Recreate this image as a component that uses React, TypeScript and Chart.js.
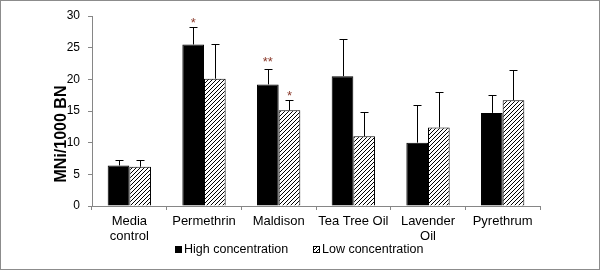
import React, { useEffect, useRef } from "react";
import { Chart, registerables } from "chart.js";

Chart.register(...registerables);

const categories: (string | string[])[] = [
  ["Media", "control"],
  "Permethrin",
  "Maldison",
  "Tea Tree Oil",
  ["Lavender", "Oil"],
  "Pyrethrum",
];
const seriesNames = ["High concentration", "Low concentration"];
const highValues = [6.4, 25.5, 19.2, 20.5, 10.0, 14.7];
const highErrors = [0.8, 2.8, 2.5, 5.8, 6.0, 2.8];
const lowValues = [6.2, 20.1, 15.1, 11.0, 12.4, 16.7];
const lowErrors = [1.0, 5.5, 1.7, 3.8, 5.6, 4.8];
const highMarks = ["", "*", "**", "", "", ""];
const lowMarks = ["", "", "*", "", "", ""];
const yTicks = [0, 5, 10, 15, 20, 25, 30];
const yTitle = "MNi/1000 BN";

function makeHatch(ctx: CanvasRenderingContext2D): CanvasPattern | string {
  const c = document.createElement("canvas");
  c.width = 4;
  c.height = 4;
  const g = c.getContext("2d");
  if (!g) return "#ccc";
  g.fillStyle = "#ffffff";
  g.fillRect(0, 0, 4, 4);
  g.fillStyle = "#000000";
  for (let i = 0; i < 4; i++) {
    g.fillRect(i, 3 - i, 1, 1);
  }
  return ctx.createPattern(c, "repeat") || "#ccc";
}

export default function App() {
  const ref = useRef<HTMLCanvasElement | null>(null);

  useEffect(() => {
    document.body.style.margin = "0";
    const canvas = ref.current;
    if (!canvas) return;
    const ctx = canvas.getContext("2d");
    if (!ctx) return;
    const hatch = makeHatch(ctx);
    const errors = [highErrors, lowErrors];
    const marks = [highMarks, lowMarks];

    const extras = {
      id: "extras",
      afterDatasetsDraw(chart: any) {
        const c = chart.ctx;
        const ys = chart.scales.y;
        c.save();
        chart.data.datasets.forEach((ds: any, di: number) => {
          const meta = chart.getDatasetMeta(di);
          meta.data.forEach((el: any, i: number) => {
            const v = ds.data[i] + errors[di][i];
            const yTop = Math.round(ys.getPixelForValue(v)) + 0.5;
            const x = Math.round(el.x) + 0.5;
            c.strokeStyle = "#000";
            c.lineWidth = 1;
            c.beginPath();
            c.moveTo(x, el.y);
            c.lineTo(x, yTop);
            c.moveTo(x - 4, yTop);
            c.lineTo(x + 4, yTop);
            c.stroke();
            const m = marks[di][i];
            if (m) {
              c.fillStyle = "#8B3A2B";
              c.font = "13px 'Liberation Sans', Arial, sans-serif";
              c.textAlign = "center";
              c.textBaseline = "middle";
              c.fillText(m, el.x, yTop - (m.length > 1 ? 7 : 4));
            }
          });
        });
        c.restore();
      },
      afterDraw(chart: any) {
        const c = chart.ctx;
        c.save();
        // y title
        c.fillStyle = "#000";
        c.font = "bold 16px 'Liberation Sans', Arial, sans-serif";
        c.textAlign = "center";
        c.textBaseline = "middle";
        c.translate(62, 134);
        c.rotate(-Math.PI / 2);
        c.fillText(yTitle, 0, 0);
        c.setTransform(1, 0, 0, 1, 0, 0);
        // legend
        c.font = "12.5px 'Liberation Sans', Arial, sans-serif";
        c.textAlign = "left";
        c.textBaseline = "middle";
        const items = [
          { x: 175, fill: "#000" as any },
          { x: 313, fill: hatch as any },
        ];
        items.forEach((it, k) => {
          c.fillStyle = it.fill;
          c.fillRect(it.x, 246, 7, 7);
          c.strokeStyle = "#000";
          c.lineWidth = 1;
          c.strokeRect(it.x + 0.5, 246.5, 6, 6);
          c.fillStyle = "#000";
          c.fillText(seriesNames[k], it.x + 9, 250);
        });
        // border
        c.strokeStyle = "#8c8c8c";
        c.lineWidth = 1;
        c.strokeRect(0.5, 0.5, 599, 269);
        c.restore();
      },
    };

    const chart = new Chart(ctx, {
      type: "bar",
      data: {
        labels: categories as any,
        datasets: [
          {
            label: seriesNames[0],
            data: highValues,
            backgroundColor: "#000000",
            borderColor: "#000000",
            borderWidth: 1,
            categoryPercentage: 0.58,
            barPercentage: 1.0,
          },
          {
            label: seriesNames[1],
            data: lowValues,
            backgroundColor: hatch as any,
            borderColor: "#000000",
            borderWidth: 1,
            categoryPercentage: 0.58,
            barPercentage: 1.0,
          },
        ],
      },
      plugins: [extras],
      options: {
        animation: false,
        responsive: false,
        maintainAspectRatio: false,
        layout: { padding: { top: 16, right: 60, left: 0, bottom: 0 } },
        plugins: {
          legend: { display: false },
          tooltip: { enabled: false },
        },
        scales: {
          x: {
            afterFit: (s: any) => {
              s.height = 64;
            },
            grid: {
              display: true,
              drawOnChartArea: false,
              drawTicks: true,
              tickLength: 4,
              color: "#868686",
              offset: true,
            },
            border: { display: true, color: "#868686" },
            ticks: {
              color: "#000",
              padding: 4,
              maxRotation: 0,
              autoSkip: false,
              font: { family: "'Liberation Sans', Arial, sans-serif", size: 13, lineHeight: 1.15 },
            },
          },
          y: {
            min: 0,
            max: 30,
            afterFit: (s: any) => {
              s.width = 92;
            },
            afterBuildTicks: (s: any) => {
              s.ticks = yTicks.map((v) => ({ value: v }));
            },
            grid: {
              display: true,
              drawOnChartArea: false,
              drawTicks: true,
              tickLength: 4,
              color: "#868686",
            },
            border: { display: true, color: "#868686" },
            ticks: {
              color: "#000",
              padding: 8,
              font: { family: "'Liberation Sans', Arial, sans-serif", size: 12 },
            },
          },
        },
      },
    });
    return () => chart.destroy();
  }, []);

  return (
    <div style={{ width: 600, height: 270, position: "relative" }}>
      <canvas ref={ref} width={600} height={270} style={{ display: "block", width: 600, height: 270 }} />
    </div>
  );
}
